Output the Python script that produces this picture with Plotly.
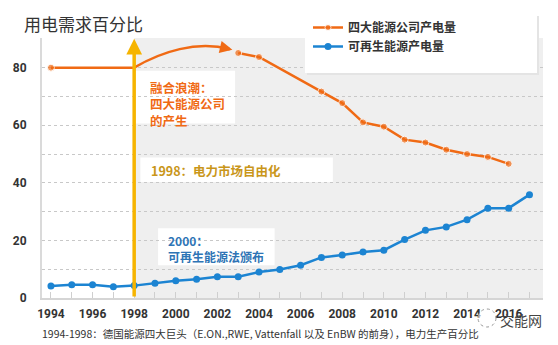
import plotly.graph_objects as go

# ---- data ----
big4_years = [1994, 1998, None, 2003, 2004, 2007, 2008, 2009, 2010, 2011, 2012, 2013, 2014, 2015, 2016]
big4_share = [80, 80, None, 85.1, 83.7, 71.7, 67.7, 61.0, 59.5, 55.0, 54.0, 51.5, 50.0, 49.0, 46.6]
big4_marker = [7, 0, 0, 7, 7, 7, 7, 7, 7, 7, 7, 7, 7, 7, 7]

ren_years = list(range(1994, 2018))
ren_share = [4.2, 4.6, 4.6, 3.9, 4.3, 5.1, 6.0, 6.5, 7.4, 7.4, 9.0, 9.9, 11.4, 14.1,
             14.9, 16.0, 16.6, 20.3, 23.5, 24.7, 27.2, 31.2, 31.2, 35.9]

x_tickvals = list(range(1994, 2017, 2))
y_tickvals = [0, 10, 20, 30, 40, 50, 60, 70, 80, 90]
y_ticktext = ["0", "", "20", "", "40", "", "60", "", "80", ""]

ORANGE = "#F06A14"
BLUE = "#1C84D2"
YELLOW = "#F6B400"
CJK = "Noto Sans CJK SC"

# page geometry
W, H = 558, 345
L, R, T, B = 42, 15, 38, 47
PW, PH = W - L - R, H - T - B


def px(x):
    return (x - L) / PW


def py(y):
    return (H - B - y) / PH


fig = go.Figure()

fig.add_trace(go.Scatter(
    x=big4_years, y=big4_share, mode="lines+markers", name="四大能源公司产电量",
    line=dict(color=ORANGE, width=2.5), marker=dict(color=ORANGE, size=big4_marker),
    connectgaps=False))
fig.add_trace(go.Scatter(
    x=ren_years, y=ren_share, mode="lines+markers", name="可再生能源产电量",
    line=dict(color=BLUE, width=2.5), marker=dict(color=BLUE, size=7)))

XMAX = 2017.65
shapes = [
    # grey background right of 1998
    dict(type="rect", xref="x", yref="y", x0=1998, x1=XMAX, y0=0, y1=90.3,
         fillcolor="#EFEFEF", line=dict(width=0), layer="below"),
    # white text boxes
    dict(type="rect", xref="x", yref="y", x0=1998, x1=2002.85, y0=60.6, y1=78.9,
         fillcolor="white", line=dict(width=0), layer="below"),
    dict(type="rect", xref="x", yref="y", x0=1998.3, x1=2007.55, y0=40.3, y1=48.8,
         fillcolor="white", line=dict(width=0), layer="below"),
    dict(type="rect", xref="x", yref="y", x0=1999.15, x1=2004.75, y0=11.4, y1=24.2,
         fillcolor="white", line=dict(width=0), layer="below"),
    # curved merger arrow
    dict(type="path", xref="x", yref="y",
         path="M 1998,80 C 1999.3,85.5 2001,89.5 2002.6,86.4",
         line=dict(color=ORANGE, width=2.5), layer="below"),
    # legend box shadow + box
    dict(type="rect", xref="paper", yref="paper", x0=px(307), x1=px(539), y0=py(75), y1=py(16),
         fillcolor="#E4E4E4", line=dict(width=0), layer="above"),
    dict(type="rect", xref="paper", yref="paper", x0=px(305), x1=px(537), y0=py(73), y1=py(15),
         fillcolor="white", line=dict(width=0), layer="above"),
    # watermark icon
    dict(type="circle", xref="paper", yref="paper", x0=px(478), x1=px(496), y0=py(327), y1=py(309),
         line=dict(color="#999", width=1, dash="dot"), fillcolor="rgba(255,255,255,0.6)", layer="above"),
]

annotations = [
    dict(text="用电需求百分比", xref="paper", yref="paper", x=px(22), y=py(24),
         xanchor="left", yanchor="middle", showarrow=False,
         font=dict(family=CJK, size=17, color="#333")),
    # yellow liberalisation arrow
    dict(x=1998, y=90, ax=1998, ay=0, xref="x", yref="y", axref="x", ayref="y", text="",
         showarrow=True, arrowhead=2, arrowsize=0.9, arrowwidth=3.5, arrowcolor=YELLOW),
    # orange curve arrow head
    dict(x=2002.72, y=86.2, ax=2002.3, ay=86.9, xref="x", yref="y", axref="x", ayref="y", text="",
         showarrow=True, arrowhead=2, arrowsize=1, arrowwidth=2.5, arrowcolor=ORANGE),
    dict(text="<b>融合浪潮：<br>四大能源公司<br>的产生</b>", x=px(148), y=py(76), xref="paper", yref="paper",
         xanchor="left", yanchor="top", align="left", showarrow=False,
         font=dict(family=CJK, size=12.5, color=ORANGE)),
    dict(text="<b>1998：电力市场自由化</b>", x=px(149), y=py(170), xref="paper", yref="paper",
         xanchor="left", yanchor="middle", align="left", showarrow=False,
         font=dict(family=CJK, size=12.5, color="#C9961A")),
    dict(text="<b>2000：<br>可再生能源法颁布</b>", x=px(166), y=py(230), xref="paper", yref="paper",
         xanchor="left", yanchor="top", align="left", showarrow=False,
         font=dict(family=CJK, size=12, color="#2E74B5")),
    dict(text="1994-1998：德国能源四大巨头（E.ON.,RWE, Vattenfall 以及 EnBW 的前身），电力生产百分比",
         x=px(40), y=py(333), xref="paper", yref="paper", xanchor="left", yanchor="middle",
         showarrow=False, font=dict(family=CJK, size=10.5, color="#333")),
    dict(text="交能网", x=px(521), y=py(320), xref="paper", yref="paper", xanchor="center",
         yanchor="middle", showarrow=False, font=dict(family=CJK, size=14, color="#444")),
]

fig.update_layout(
    width=W, height=H,
    margin=dict(l=L, r=R, t=T, b=B, pad=0),
    paper_bgcolor="white", plot_bgcolor="white",
    shapes=shapes, annotations=annotations,
    showlegend=True,
    legend=dict(x=px(308), y=py(13), xanchor="left", yanchor="top",
                bgcolor="rgba(0,0,0,0)", borderwidth=0,
                font=dict(family=CJK, size=12, color="#333", weight="bold"),
                itemwidth=30, tracegroupgap=0),
)

fig.update_xaxes(
    range=[1993.57, XMAX], tickvals=x_tickvals, showgrid=False, zeroline=False,
    showline=True, linecolor="#D5D5D5", linewidth=2,
    ticks="inside", ticklen=6, tickcolor="#CFCFCF", tickwidth=1,
    minor=dict(dtick=1, tick0=1994, ticks="inside", ticklen=6, tickcolor="#CFCFCF", tickwidth=1),
    tickfont=dict(family="Roboto", size=12, color="#333", weight="bold"),
    ticklabelstandoff=4,
)
fig.update_yaxes(
    range=[0, 90.3], tickvals=y_tickvals, ticktext=y_ticktext,
    showgrid=True, gridcolor="#C8C8C8", griddash="dot", gridwidth=1,
    zeroline=False, showline=True, linecolor="#DADADA", linewidth=2, ticks="",
    tickfont=dict(family="Roboto", size=12, color="#333", weight="bold"),
    ticklabelstandoff=11,
)

fig.write_html("out.html")
